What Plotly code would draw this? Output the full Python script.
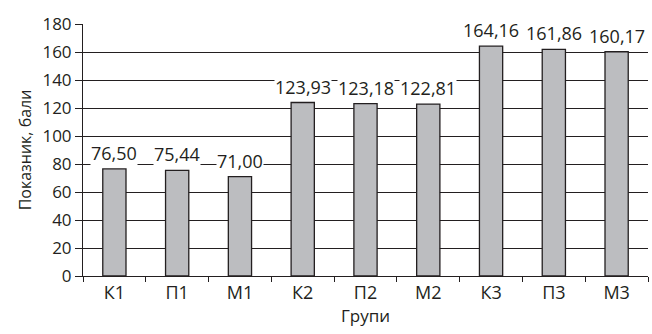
import plotly.graph_objects as go

# Groups and their scores
groups = ["К1", "П1", "М1", "К2", "П2", "М2", "К3", "П3", "М3"]
scores = [76.50, 75.44, 71.00, 123.93, 123.18, 122.81, 164.16, 161.86, 160.17]
y_ticks = [0, 20, 40, 60, 80, 100, 120, 140, 160, 180]

FONT = "Open Sans"
INK = "#231f20"

fig = go.Figure(
    go.Bar(
        x=groups,
        y=scores,
        marker=dict(color="#bcbdc0", line=dict(color=INK, width=1.3)),
        width=0.37,
        hoverinfo="skip",
    )
)

# Value labels above bars, on a white box so they cut the grid lines
for g, v in zip(groups, scores):
    fig.add_annotation(
        x=g, y=v,
        text=f"{v:.2f}".replace(".", ","),
        showarrow=False,
        yanchor="middle",
        yshift=16,
        bgcolor="white",
        borderpad=0,
        font=dict(family=FONT, size=18, color=INK),
    )

fig.update_layout(
    width=652, height=334,
    margin=dict(l=83, r=4, t=24, b=58),
    paper_bgcolor="white",
    plot_bgcolor="white",
    showlegend=False,
    font=dict(family=FONT, size=17, color=INK),
)

fig.update_xaxes(
    type="category",
    tickson="boundaries",
    ticks="outside",
    ticklen=5,
    tickwidth=1,
    tickcolor=INK,
    showline=True,
    linecolor=INK,
    linewidth=1,
    showgrid=False,
    tickfont=dict(family=FONT, size=18, color=INK),
    title=dict(text="Групи", font=dict(family=FONT, size=17, color=INK), standoff=5),
)

fig.update_yaxes(
    range=[0, 180],
    tickvals=y_ticks,
    ticks="outside",
    ticklen=7,
    tickwidth=1,
    tickcolor=INK,
    showline=True,
    linecolor=INK,
    linewidth=1,
    showgrid=True,
    gridcolor=INK,
    gridwidth=1,
    zeroline=False,
    tickfont=dict(family=FONT, size=17, color=INK),
    title=dict(text="Показник, бали", font=dict(family=FONT, size=16, color=INK), standoff=6),
)

fig.write_html("out.html")
